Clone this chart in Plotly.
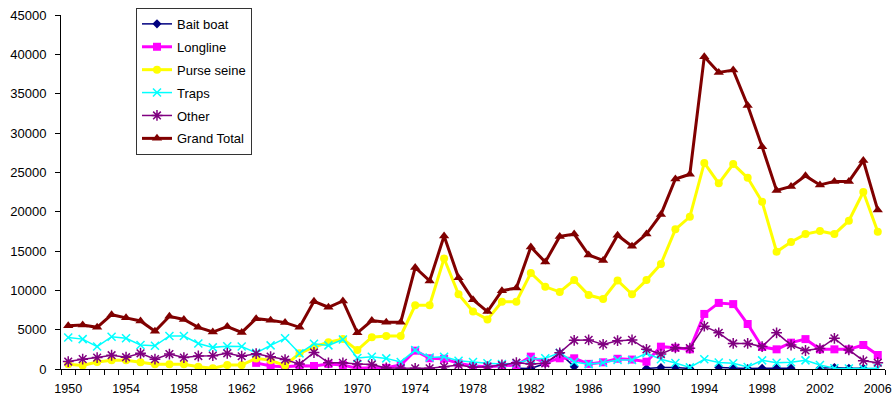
import plotly.graph_objects as go

years = list(range(1950, 2007))

bait_boat = [None] * 31 + [100, 60, 700, 2000, 300, None, None, None, None,
                           60, 200, 200, 60, None, 200, 100, 60, 100, 100,
                           100, None, 100, 200, 100, 100, None]

longline = [None] * 13 + [780, 380, 300, 400, 380, 640, 510,
                          80, 150, 150, 500, 2330, 1360, 1300, 720, 380, 300,
                          380, 510, 1570, 800, 1360, 1360, 650, 850, 1300, 1200,
                          930, 2840, 2700, 2500, 7000, 8400, 8250, 5720, 2800, 2500,
                          3350, 3800, 2500, 2500, 2500, 3050, 1780]

purse_seine = [600, 450, 900, 1100, 1100, 850, 600, 600, 600, 300,
               100, 500, 500, 1350, 1100, 450, 2000, 2800, 3400, 3800,
               2400, 4050, 4200, 4200, 8100, 8100, 14050, 9500, 7300, 6300,
               8550, 8550, 12200, 10450, 9800, 11300, 9400, 8900, 11250, 9500,
               11300, 13350, 17750, 19350, 26200, 23600, 26050, 24300, 21250, 14900,
               16150, 17150, 17550, 17150, 18850, 22500, 17450]

traps = [4000, 3800, 2850, 4100, 3900, 3050, 2950, 4200, 4200, 3250,
         2750, 2900, 2850, 2050, 3000, 3900, 1990, 3200, 3000, 3750,
         1400, 1550, 1350, 900, 2400, 1450, 1550, 1050, 900, 720,
         640, 720, 1230, 1360, 2050, 900, 620, 800, 1150, 1150,
         2000, 1250, 760, 210, 1230, 820, 720, 260, 1100, 800,
         850, 1100, 510, 90, 60, 70, 80]

other = [950, 1250, 1450, 1750, 1500, 2000, 1250, 1900, 1450, 1650,
         1700, 2000, 1620, 1950, 1570, 1200, 620, 2100, 780, 780,
         650, 580, 130, 100, 90, 90, 300, 500, 210, 300,
         510, 800, 640, 720, 2050, 3650, 3700, 3130, 3600, 3700,
         2500, 1900, 2700, 2650, 5450, 4600, 3250, 3250, 2850, 4600,
         3050, 2350, 2600, 3900, 2420, 1060, 800]

grand_total = [5500, 5600, 5300, 6900, 6500, 6100, 4800, 6700, 6300, 5300,
               4700, 5400, 4650, 6400, 6200, 5900, 5300, 8600, 7850, 8650,
               4600, 6150, 5950, 5950, 12900, 11200, 16900, 11600, 8800, 7300,
               9950, 10300, 15500, 13600, 16850, 17150, 14500, 13800, 17000, 15600,
               17150, 19650, 24150, 24750, 39700, 37700, 38000, 33500, 28250, 22700,
               23200, 24550, 23400, 23850, 23850, 26500, 20200]

series = [
    ("Bait boat", bait_boat, "#000080", 1.5, "diamond", 7, None),
    ("Longline", longline, "#FF00FF", 3, "square", 8, None),
    ("Purse seine", purse_seine, "#FFFF00", 3, "circle", 8, None),
    ("Traps", traps, "#00FFFF", 1.5, "x-thin", 8, 1.5),
    ("Other", other, "#800080", 1.5, "asterisk", 9, 1.5),
    ("Grand Total", grand_total, "#800000", 3, "triangle-up", 9, None),
]

fig = go.Figure()
for name, vals, color, lw, sym, msize, mlw in series:
    marker = dict(symbol=sym, size=msize, color=color)
    if mlw is not None:
        marker["line"] = dict(color=color, width=mlw)
    else:
        marker["line"] = dict(width=0)
    fig.add_trace(go.Scatter(
        x=years, y=vals, name=name, mode="lines+markers",
        line=dict(color=color, width=lw), marker=marker,
        legendgroup=name, connectgaps=False,
    ))

fig.update_layout(
    width=893, height=399,
    margin=dict(l=61, r=8, t=15, b=30),
    paper_bgcolor="white", plot_bgcolor="white",
    font=dict(family="Liberation Sans, Arial, sans-serif", size=13, color="black"),
    showlegend=True,
    legend=dict(
        x=0.091, y=1.02, xanchor="left", yanchor="top",
        bgcolor="white", bordercolor="#333333", borderwidth=1,
        font=dict(size=13), traceorder="grouped", tracegroupgap=3,
    ),
    xaxis=dict(
        range=[1949.5, 2006.5], tickmode="linear", tick0=1950, dtick=4,
        ticks="outside", ticklen=5, tickcolor="rgba(0,0,0,0)",
        tickfont=dict(size=12.5),
        ticklabelstandoff=3, ticklabeloverflow="allow", automargin=False,
        showgrid=False, zeroline=False,
        showline=True, linecolor="black", linewidth=1,
        minor=dict(tickmode="linear", tick0=1949.5, dtick=1, ticks="outside",
                   ticklen=5, tickcolor="black", showgrid=False),
    ),
    yaxis=dict(
        range=[0, 45000], tickmode="linear", tick0=0, dtick=5000,
        tickformat="d", ticks="outside", ticklen=5, tickcolor="black",
        ticklabelstandoff=6, automargin=False,
        showgrid=False, zeroline=False,
        showline=True, linecolor="black", linewidth=1,
    ),
)

fig.write_html("out.html")
